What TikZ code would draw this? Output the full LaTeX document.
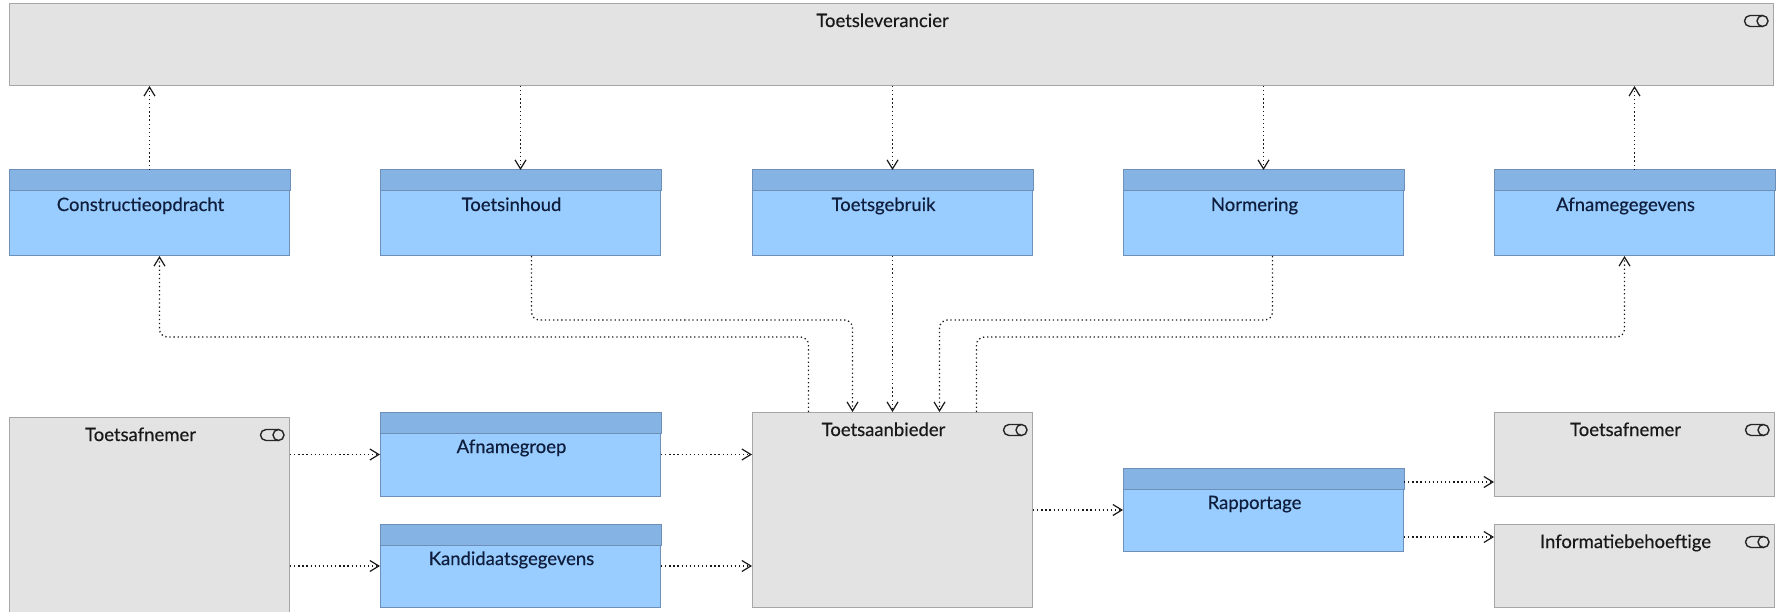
\documentclass[tikz,border=0pt]{standalone}
\usepackage{fontspec}
\setmainfont{Lato}
\newfontfamily\lblfont[FakeBold=0.4]{Lato}
\usetikzlibrary{arrows.meta,positioning,calc}
\definecolor{rolefill}{HTML}{E3E3E3}
\definecolor{roleline}{HTML}{A6A6A6}
\definecolor{objfill}{HTML}{99CCFF}
\definecolor{objhead}{HTML}{85B3E3}
\definecolor{objline}{HTML}{6E8FB8}
\definecolor{objtext}{HTML}{0F1E3C}
\tikzset{
role/.style={draw=roleline, fill=rolefill, line width=1pt, inner sep=0pt,
  minimum width=280pt, minimum height=84pt, anchor=north west},
object/.style={draw=objline, fill=objfill, line width=1pt, inner sep=0pt,
  minimum width=280pt, minimum height=85pt, anchor=north west},
rolename/.style={anchor=base, yshift=-24pt, xshift=-9pt, inner sep=0pt,
  font=\lblfont\fontsize{18.5pt}{22pt}\selectfont, text=black!90},
objname/.style={anchor=base, yshift=-41pt, xshift=-9pt, inner sep=0pt,
  font=\lblfont\fontsize{18.5pt}{22pt}\selectfont, text=objtext},
rel/.style={black!90, line width=1.3pt, dash pattern=on 1.3pt off 2.8pt,
  rounded corners=8pt, -{Straight Barb[length=9pt,width=11pt,line width=1.2pt]}},
}
\newcommand{\roleicon}[1]{%
  \begin{scope}[shift={([xshift=-17.5pt,yshift=-18pt]#1.north east)}]
    \draw[line width=1.4pt, black!85] (6,5.5) -- (-6.5,5.5)
      arc[start angle=90, end angle=270, radius=5.5] -- (6,-5.5);
    \draw[line width=1.4pt, black!85] (6,0) ellipse[x radius=5.5, y radius=5.5];
  \end{scope}}

\begin{document}
\begin{tikzpicture}[x=1pt, y=1pt]
    \useasboundingbox (0,0) rectangle (1779,-612);

    % supplier and the exchanged objects
    \node[role, minimum width=1764pt, minimum height=82pt,
        label={[rolename]north:Toetsleverancier}] (lev) at (9,-3) {};
    \node[object, label={[objname]north:Constructieopdracht}] (con) at (9,-170) {};
    \node[object, label={[objname]north:Toetsinhoud}] (inh) at (380,-170) {};
    \node[object, label={[objname]north:Toetsgebruik}] (geb) at (752,-170) {};
    \node[object, label={[objname]north:Normering}] (nor) at (1123,-170) {};
    \node[object, label={[objname]north:Afnamegegevens}] (afg) at (1494,-170) {};

    % lower row
    \node[role, minimum height=200pt,
        label={[rolename]north:Toetsafnemer}] (tafL) at (9,-417) {};
    \node[object, minimum height=84pt,
        label={[objname]north:Afnamegroep}] (agr) at (380,-412) {};
    \node[object, minimum height=83pt,
        label={[objname]north:Kandidaatsgegevens}] (kan) at (380,-524) {};
    \node[role, minimum height=195pt,
        label={[rolename]north:Toetsaanbieder}] (tab) at (752,-412) {};
    \node[object, minimum height=83pt,
        label={[objname]north:Rapportage}] (rap) at (1123,-468) {};
    \node[role, label={[rolename]north:Toetsafnemer}] (tafR) at (1494,-412) {};
    \node[role, minimum height=83pt,
        label={[rolename]north:Informatiebehoeftige}] (inf) at (1494,-524) {};

    \foreach \n in {con,inh,geb,nor,afg,agr,kan,rap}
        \draw[draw=objline, fill=objhead, line width=1pt]
            (\n.north west) rectangle ([yshift=-21pt]\n.north east);
    \foreach \n in {lev,tafL,tab,tafR,inf}
        \roleicon{\n};

    % flows with the supplier
    \draw[rel] (con.north) -- (con.north |- lev.south);
    \draw[rel] (inh.north |- lev.south) -- (inh.north);
    \draw[rel] (geb.north |- lev.south) -- (geb.north);
    \draw[rel] (nor.north |- lev.south) -- (nor.north);
    \draw[rel] (afg.north) -- (afg.north |- lev.south);

    \draw[rel] ([xshift=-84pt]tab.north) -- ++(0,75) -| ([xshift=10pt]con.south);
    \draw[rel] ([xshift=11pt]inh.south) -- ++(0,-64) -| ([xshift=-40pt]tab.north);
    \draw[rel] (geb.south) -- (tab.north);
    \draw[rel] ([xshift=9pt]nor.south) -- ++(0,-64) -| ([xshift=47pt]tab.north);
    \draw[rel] ([xshift=84pt]tab.north) -- ++(0,75) -| ([xshift=-10pt]afg.south);

    % flows in the lower row
    \draw[rel] (tafL.east |- agr.west) -- (agr.west);
    \draw[rel] (tafL.east |- kan.west) -- (kan.west);
    \draw[rel] (agr.east) -- (agr.east -| tab.west);
    \draw[rel] (kan.east) -- (kan.east -| tab.west);
    \draw[rel] (tab.east |- rap.west) -- (rap.west);

    \coordinate (r1) at ([yshift=28pt]rap.east);
    \coordinate (r2) at ([yshift=-27pt]rap.east);
    \draw[rel] (r1) -- (r1 -| tafR.west);
    \draw[rel] (r2) -- (r2 -| inf.west);
\end{tikzpicture}
\end{document}
